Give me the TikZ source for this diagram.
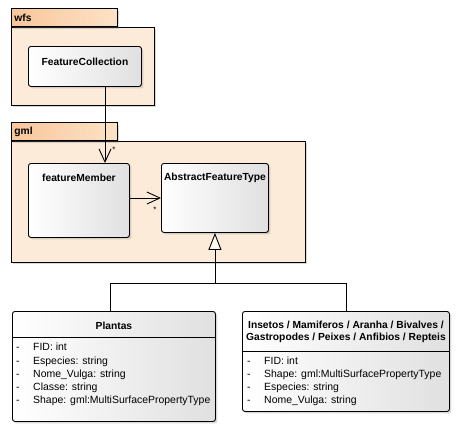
\documentclass[tikz,border=0pt]{standalone}
\usepackage{fontspec}
\setmainfont{Liberation Sans}
\usetikzlibrary{arrows.meta,shadows,calc}
\definecolor{pkgfill}{HTML}{FDEBD9}
\definecolor{tabL}{HTML}{F8C69B}
\definecolor{tabR}{HTML}{FDE2C6}
\definecolor{boxR}{HTML}{E0E0E0}
\definecolor{genfill}{HTML}{FFF9EE}
\begin{document}
\begin{tikzpicture}[x=1bp,y=-1bp,
  every node/.style={font=\fontsize{10.5}{12}\selectfont, inner sep=0pt},
  shd/.style={drop shadow={shadow xshift=2bp, shadow yshift=-2bp, opacity=.3, fill=gray}},
  pkgbody/.style={draw, line width=0.9bp, fill=pkgfill, shd, anchor=north west},
  pkgtab/.style={draw, line width=0.9bp, left color=tabL, right color=tabR, shd, anchor=south west,
     text width=100bp, inner xsep=3bp, align=left, minimum height=18bp, font=\fontsize{10.3}{12}\selectfont\bfseries},
  box/.style={draw, line width=0.9bp, rounded corners=2.5bp, left color=white, right color=boxR, shd, anchor=north west},
  title/.style={font=\fontsize{10.3}{12.2}\selectfont\bfseries, align=center},
  attr/.style={anchor=west, text height=7.6bp, text depth=0pt},
  mult/.style={font=\fontsize{8}{9}\selectfont},
  line/.style={line width=0.9bp},
  assoc/.style={line width=0.9bp, -{Straight Barb[length=13bp, width=12bp, line width=0.9bp]}},
  gen/.style={line width=0.9bp, -{Triangle[open, length=17bp, width=13bp, line width=0.9bp, fill=genfill]}}
]
\useasboundingbox (0,0) rectangle (458,431);

% packages
\node[pkgbody, minimum width=143bp, minimum height=78bp] (wfs) at (11,27) {};
\node[pkgtab] (wfstab) at (11,27) {wfs};
\node[pkgbody, minimum width=294bp, minimum height=121bp] (gml) at (11,141) {};
\node[pkgtab] (gmltab) at (11,141) {gml};

% classes
\node[box, minimum width=113bp, minimum height=40bp] (fc) at (28,46) {};
\node[title] (fct) at ($(fc.north)+(0,16)$) {FeatureCollection};

\node[box, minimum width=101bp, minimum height=74bp] (fm) at (28,163) {};
\node[title] (fmt) at ($(fm.north)+(0,15)$) {featureMember};

\node[box, minimum width=107bp, minimum height=69bp] (aft) at (161,163) {};
\node[title] (aftt) at ($(aft.north)+(0,15)$) {AbstractFeatureType};

\node[box, minimum width=203bp, minimum height=110bp] (pl) at (12,311) {};
\node[title] (plt) at ($(pl.north)+(0,15)$) {Plantas};
\draw[line] ($(pl.north west)+(0,26)$) coordinate (pls) -- (pls -| pl.east);
\foreach \y/\t [count=\i] in {347/{FID: int},361/{Especies: string},374/{Nome\_Vulga: string},387/{Classe: string},400/{Shape: gml:MultiSurfacePropertyType}}{
  \node[attr] (pld\i) at (16,\y) {-};
  \node[attr] (pla\i) at (33,\y) {\t};
}

\node[box, minimum width=207bp, minimum height=100bp] (ins) at (242,311) {};
\node[title] (inst) at ($(ins.north)+(0,21)$) {Insetos / Mamiferos / Aranha / Bivalves /\\Gastropodes / Peixes / Anfibios / Repteis};
\draw[line] ($(ins.north west)+(0,40)$) coordinate (inss) -- (inss -| ins.east);
\foreach \y/\t [count=\i] in {361/{FID: int},374/{Shape: gml:MultiSurfacePropertyType},387/{Especies: string},400/{Nome\_Vulga: string}}{
  \node[attr] (insd\i) at (247,\y) {-};
  \node[attr] (insa\i) at (264,\y) {\t};
}

% associations
\draw[assoc] ($(fc.south west)+(77,0)$) coordinate (c1) -- (c1 |- fm.north);
\node[mult] (m1) at (114,150) {*};
\draw[assoc] ($(fm.north east)+(0,35)$) coordinate (c2) -- (c2 -| aft.west);
\node[mult] (m2) at (155,210) {*};

% generalization
\coordinate (j) at ($(aft.south)+(0,51)$);
\draw[line] ($(pl.north west)+(98,0)$) |- (j) -| (ins.north);
\draw[gen] (j) -- (aft.south);
\end{tikzpicture}
\end{document}
